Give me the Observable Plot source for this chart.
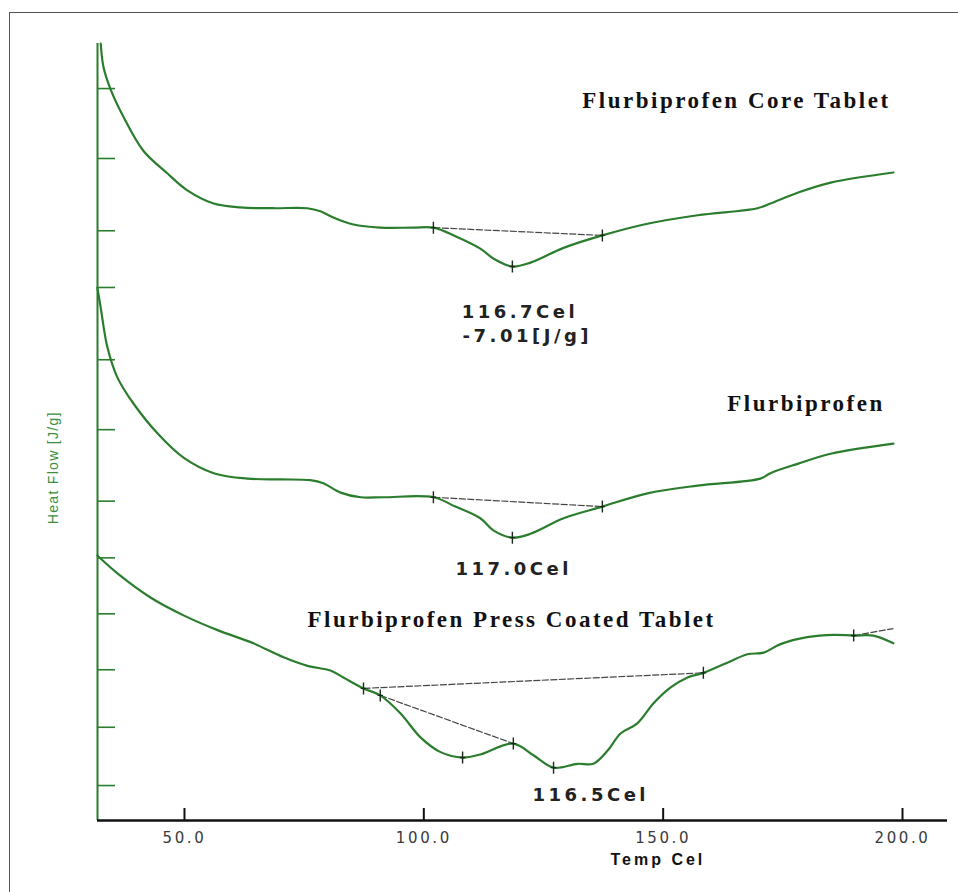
<!DOCTYPE html>
<html>
<head>
<meta charset="utf-8">
<script src="https://cdn.jsdelivr.net/npm/d3@7"></script>
<script src="https://cdn.jsdelivr.net/npm/@observablehq/plot@0.6"></script>
<style>
  html, body { margin: 0; padding: 0; background: #fff; }
  #wrap { position: relative; width: 958px; height: 892px; overflow: hidden; }
  #frame { position: absolute; left: 9px; top: 12px; width: 960px; height: 900px;
           border-top: 1.5px solid #555; border-left: 1.5px solid #555; }
  #chart { position: absolute; left: 0; top: 0; }
</style>
</head>
<body>
<div id="wrap"><div id="frame"></div><div id="chart"></div></div>
<script>
// ---- Data (x: Temp Cel, y: Heat Flow, arbitrary stacked units) ----
const coreTemp = [32.5, 33.1, 34.5, 37.3, 41.4, 46.4, 50.6, 56.1, 61.7, 68.6, 75.7, 78.4, 81.1, 85.3, 90.9, 97.8, 102.0, 106.6, 111.8, 114.6, 118.5, 122.3, 129.2, 137.3, 146.7, 157.2, 169.7, 172.4, 178.1, 185.0, 198.1];
const coreFlow = [100, 96.9, 94.2, 90.5, 86.2, 83.3, 81.1, 79.4, 78.9, 78.8, 78.8, 78.4, 77.6, 76.7, 76.3, 76.3, 76.3, 75.2, 73.6, 72.3, 71.3, 71.8, 73.7, 75.3, 76.8, 77.9, 78.8, 79.4, 80.8, 82.1, 83.4];

const pureTemp = [31.8, 32.5, 33.9, 36.0, 39.3, 44.4, 49.8, 56.1, 63.2, 70.1, 76.3, 79.0, 82.6, 86.8, 91.6, 102.0, 106.6, 111.8, 114.6, 118.5, 122.3, 129.2, 137.3, 146.7, 157.2, 170.3, 172.4, 178.1, 185.0, 198.1];
const pureFlow = [68.6, 66.0, 60.9, 57.0, 53.7, 49.8, 46.7, 44.7, 44.0, 43.9, 43.8, 43.4, 42.2, 41.6, 41.6, 41.6, 40.4, 38.9, 37.3, 36.4, 36.9, 38.9, 40.4, 42.1, 43.1, 44.0, 44.7, 45.9, 47.2, 48.5];

const pressTemp = [31.8, 36.0, 42.9, 49.8, 56.9, 64.4, 70.7, 75.7, 80.5, 83.2, 87.4, 90.9, 95.1, 99.3, 103.5, 108.1, 111.8, 118.7, 122.9, 127.1, 132.1, 135.4, 138.4, 141.1, 144.6, 148.0, 151.5, 155.1, 158.4, 163.4, 167.6, 171.0, 174.5, 180.1, 185.6, 189.8, 193.9, 198.1];
const pressFlow = [34.1, 31.8, 28.7, 26.4, 24.5, 22.8, 21.0, 19.9, 19.3, 18.4, 17.0, 16.1, 13.8, 10.7, 8.8, 8.1, 8.5, 9.9, 8.4, 6.8, 7.3, 7.3, 9.0, 11.2, 12.5, 15.1, 17.1, 18.4, 19.0, 20.3, 21.4, 21.6, 22.7, 23.6, 23.9, 23.8, 23.8, 22.8];

// integration baselines
const baseT1 = [102.0, 102.0, 87.4, 90.9, 189.8];
const baseF1 = [76.3, 41.6, 17.0, 16.1, 23.8];
const baseT2 = [137.3, 137.3, 158.4, 118.7, 198.1];
const baseF2 = [75.3, 40.4, 19.0, 9.9, 24.7];

// marker crosses on the curves
const markTemp = [102.0, 118.5, 137.3, 102.0, 118.5, 137.3, 87.4, 90.9, 108.1, 118.7, 127.1, 158.4, 189.8];
const markFlow = [76.3, 71.3, 75.3, 41.6, 36.4, 40.4, 17.0, 16.1, 8.1, 9.9, 6.8, 19.0, 23.8];

// tick values
const xTicks = [50, 100, 150, 200];
const yTicks = [94.2, 85.2, 75.9, 68.6, 59.3, 50.3, 41.1, 33.8, 26.6, 19.4, 12.0, 4.5];

// annotations
const titleText = ["Flurbiprofen Core Tablet", "Flurbiprofen", "Flurbiprofen Press Coated Tablet"];
const titleTemp = [133.1, 163.4, 75.7];
const titleFlow = [92.7, 53.7, 25.9];
const peakText = ["116.7Cel", "-7.01[J/g]", "117.0Cel", "116.5Cel"];
const peakTemp = [107.9, 108.1, 106.6, 122.7];
const peakFlow = [65.4, 62.3, 32.4, 3.2];

// ---- build ----
const green = "#2b7d2e";
const rows = (xs, ys) => xs.map((x, i) => ({x, y: ys[i]}));
const idx = (a) => d3.range(a.length);

const crossSymbol = {
  draw(ctx, size) {
    const r = Math.sqrt(size / Math.PI);
    ctx.moveTo(0, -r); ctx.lineTo(0, r);
    ctx.moveTo(-r * 0.45, 0); ctx.lineTo(r * 0.45, 0);
  }
};

const lineOpts = {x: "x", y: "y", stroke: green, strokeWidth: 2.2, curve: "catmull-rom"};

const svg = Plot.plot({
  width: 958,
  height: 892,
  marginLeft: 97,
  marginRight: 11,
  marginTop: 43,
  marginBottom: 72,
  x: {domain: [31.83, 209.4], label: null},
  y: {domain: [0, 100], label: null},
  style: {background: "transparent"},
  marks: [
    // y axis (green) with inward ticks, no labels
    Plot.ruleX([31.83], {y1: 0, y2: 100, stroke: green, strokeWidth: 2}),
    Plot.axisY(yTicks, {tickSize: -18, tickFormat: () => "", stroke: green, strokeWidth: 1.6, label: null}),
    // x axis
    Plot.ruleY([0], {stroke: "#111", strokeWidth: 2.5}),
    Plot.axisX(xTicks, {tickSize: -12, tickPadding: 24, tickFormat: (d) => d.toFixed(1),
      stroke: "#111", strokeWidth: 2, fill: "#3a3a3a", fontSize: 15, fontFamily: "DejaVu Sans", label: null}),
    Plot.text(["Temp Cel"], {x: 148.9, frameAnchor: "bottom", dy: 44, fontWeight: "bold",
      fontSize: 16, fontFamily: "Liberation Sans", fill: "#111"}),
    Plot.text(["Heat Flow [J/g]"], {y: 45.4, frameAnchor: "left", dx: -44, rotate: -90, textAnchor: "middle",
      fontSize: 14, fontFamily: "Liberation Sans", fill: "#3c8f3c"}),
    // baselines
    Plot.link(idx(baseT1), {x1: (i) => baseT1[i], y1: (i) => baseF1[i], x2: (i) => baseT2[i], y2: (i) => baseF2[i],
      stroke: "#444", strokeWidth: 1.2, strokeDasharray: "7,1.5"}),
    // curves
    Plot.line(rows(coreTemp, coreFlow), lineOpts),
    Plot.line(rows(pureTemp, pureFlow), lineOpts),
    Plot.line(rows(pressTemp, pressFlow), lineOpts),
    // markers
    Plot.dot(idx(markTemp), {x: (i) => markTemp[i], y: (i) => markFlow[i], symbol: crossSymbol, r: 6,
      stroke: "#1a2a1a", strokeWidth: 1.4, fill: "none"}),
    // titles
    Plot.text(idx(titleText), {x: (i) => titleTemp[i], y: (i) => titleFlow[i], text: (i) => titleText[i],
      textAnchor: "start", fontFamily: "Liberation Serif", fontWeight: "bold", fontSize: 23, fill: "#111"}),
    // peak labels
    Plot.text(idx(peakText), {x: (i) => peakTemp[i], y: (i) => peakFlow[i], text: (i) => peakText[i],
      textAnchor: "start", fontFamily: "DejaVu Sans", fontWeight: "bold", fontSize: 18, fill: "#222"})
  ]
});

// letter spacing to match the wide, stretched lettering of the original
const spacing = new Map([
  ...titleText.map((t) => [t, 2.5]),
  ...peakText.map((t) => [t, 3.5]),
  ["Temp Cel", 3],
  ["Heat Flow [J/g]", 1.3]
]);
d3.select(svg).selectAll("text").each(function () {
  const t = this.textContent;
  let s = spacing.get(t);
  if (s == null && /^\d+\.0$/.test(t)) s = 2.6;
  if (s != null) this.setAttribute("letter-spacing", s);
});

document.getElementById("chart").appendChild(svg);
</script>
</body>
</html>
